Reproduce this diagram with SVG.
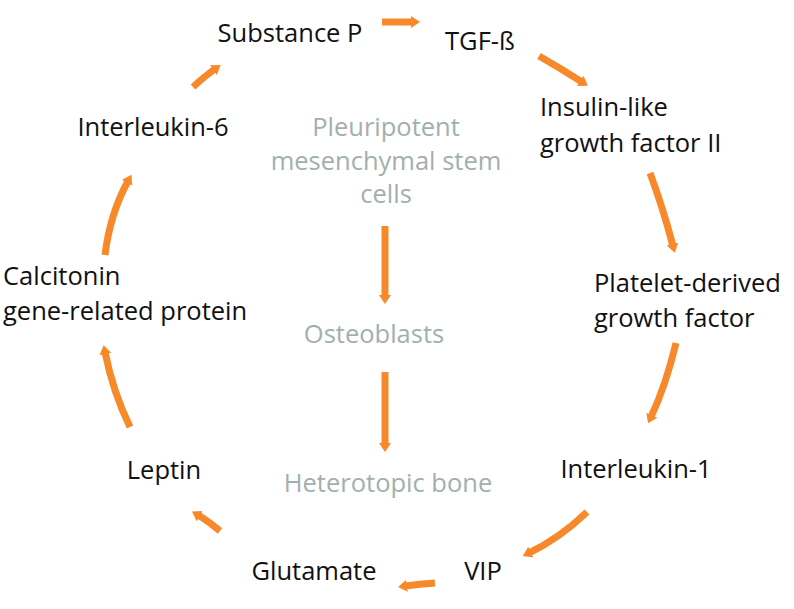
<svg xmlns="http://www.w3.org/2000/svg" width="794" height="609" viewBox="0 0 794 609">
<defs>
<marker id="ah" markerUnits="userSpaceOnUse" markerWidth="14" markerHeight="14" refX="2" refY="7" orient="auto">
<path d="M0,1 L9,7 L0,13 Z" fill="#F7892B"/>
</marker>
</defs>
<style>
.t{font-family:"Open Sans","Liberation Sans",sans-serif;font-size:25.5px;fill:#111}
.g{font-family:"Open Sans","Liberation Sans",sans-serif;font-size:25.5px;fill:#A3AFAF}
.c{fill:none;stroke:#F7892B;stroke-width:7;marker-end:url(#ah)}
</style>
<rect width="794" height="609" fill="#fff"/>
<g id="connectors">
<path class="c" d="M382,22 L413,22"/>
<path class="c" d="M539,56 Q560,68 582,82"/>
<path class="c" d="M650,173 Q663,208 673,246"/>
<path class="c" d="M676,343 Q666,385 651,417"/>
<path class="c" d="M587,512 Q560,538 529,553"/>
<path class="c" d="M435,583 Q420,584 405,586"/>
<path class="c" d="M220,531 Q208,521 198,515"/>
<path class="c" d="M130,427 Q113,392 105,352"/>
<path class="c" d="M105,255 Q110,214 128,181"/>
<path class="c" d="M193,87 Q205,76 215,69"/>
<path class="c" d="M385,226 L385,297"/>
<path class="c" d="M385,372 L385,445"/>
</g>
<g id="substance-p"><text class="t" x="290" y="42" text-anchor="middle">Substance P</text></g>
<g id="tgf-b"><text class="t" x="480" y="50" text-anchor="middle">TGF-ß</text></g>
<g id="igf2"><text class="t" x="540" y="116">Insulin-like</text><text class="t" x="540" y="152">growth factor II</text></g>
<g id="pdgf"><text class="t" x="594" y="292">Platelet-derived</text><text class="t" x="594" y="327">growth factor</text></g>
<g id="il1"><text class="t" x="636" y="478" text-anchor="middle">Interleukin-1</text></g>
<g id="vip"><text class="t" x="483" y="580" text-anchor="middle">VIP</text></g>
<g id="glutamate"><text class="t" x="314" y="580" text-anchor="middle">Glutamate</text></g>
<g id="leptin"><text class="t" x="164" y="479" text-anchor="middle">Leptin</text></g>
<g id="cgrp"><text class="t" x="3" y="285">Calcitonin</text><text class="t" x="3" y="320">gene-related protein</text></g>
<g id="il6"><text class="t" x="153" y="136" text-anchor="middle">Interleukin-6</text></g>
<g id="msc"><text class="g" x="386" y="136" text-anchor="middle">Pleuripotent</text><text class="g" x="386" y="170" text-anchor="middle">mesenchymal stem</text><text class="g" x="386" y="203" text-anchor="middle">cells</text></g>
<g id="osteoblasts"><text class="g" x="374" y="343" text-anchor="middle">Osteoblasts</text></g>
<g id="hbone"><text class="g" x="388" y="492" text-anchor="middle">Heterotopic bone</text></g>
</svg>
